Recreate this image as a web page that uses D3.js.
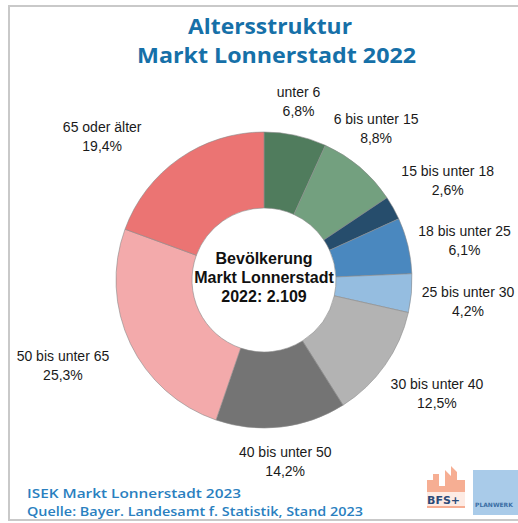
<!DOCTYPE html>
<html>
<head>
<meta charset="utf-8">
<script src="https://cdn.jsdelivr.net/npm/d3@7"></script>
<style>
  html, body { margin: 0; padding: 0; background: #fff; }
  svg { display: block; }
</style>
</head>
<body>
<svg id="chart" width="518" height="523"></svg>
<script>
const categories = [
  "unter 6", "6 bis unter 15", "15 bis unter 18", "18 bis unter 25",
  "25 bis unter 30", "30 bis unter 40", "40 bis unter 50",
  "50 bis unter 65", "65 oder älter"
];
const shares = [6.8, 8.8, 2.6, 6.1, 4.2, 12.5, 14.2, 25.3, 19.4];
const sliceColors = [
  "#507c5d", "#73a07f", "#264d6c", "#4a88bf", "#95bde0",
  "#b3b3b3", "#747474", "#f3aaab", "#eb7473"
];
const titleLines = ["Altersstruktur", "Markt Lonnerstadt 2022"];
const centerLines = ["Bevölkerung", "Markt Lonnerstadt", "2022: 2.109"];
const sourceLines = [
  "ISEK Markt Lonnerstadt 2023",
  "Quelle: Bayer. Landesamt f. Statistik, Stand 2023"
];

const svg = d3.select("#chart");
const width = 518, height = 523;
const cx = 264, cy = 280;
const outerR = 148, innerR = 72;

// manual label tweaks, like dragging them in excel
const labelNudge = [[-4, -1], [-18, 2], [1, 2], [-3, 9], [-3, 3], [3, -6], [0, 0], [-12, -5], [-49, 18]];

// frame (right side runs off the picture)
svg.append("rect")
  .attr("x", 9).attr("y", 6)
  .attr("width", width + 10).attr("height", 514)
  .attr("fill", "#fff")
  .attr("stroke", "#c9c9c9")
  .attr("stroke-width", 2);

// title - stretched a bit so the lines keep the heavy, wide look
const titleX = [270, 276.5];
const titleLen = [164, 279];
svg.append("g")
  .selectAll("text")
  .data(titleLines)
  .join("text")
  .attr("x", (d, i) => titleX[i])
  .attr("y", (d, i) => 34 + i * 29)
  .attr("text-anchor", "middle")
  .attr("font-family", "'Open Sans', sans-serif")
  .attr("font-weight", 700)
  .attr("font-size", 21.2)
  .attr("textLength", (d, i) => titleLen[i])
  .attr("lengthAdjust", "spacingAndGlyphs")
  .attr("fill", "#1670a8")
  .text(d => d);

const data = categories.map((c, i) => ({ label: c, value: shares[i], color: sliceColors[i] }));

const pie = d3.pie().value(d => d.value).sort(null);
const arc = d3.arc().innerRadius(innerR).outerRadius(outerR);
const arcs = pie(data);

const g = svg.append("g").attr("transform", `translate(${cx},${cy})`);

g.selectAll("path")
  .data(arcs)
  .join("path")
  .attr("d", arc)
  .attr("fill", d => d.data.color)
  .attr("stroke", "#8a8a8a")
  .attr("stroke-width", 0.6);

// centre text
g.append("text")
  .attr("text-anchor", "middle")
  .attr("font-family", "'Liberation Sans', Arial, sans-serif")
  .attr("font-weight", 700)
  .attr("font-size", 16)
  .attr("fill", "#111")
  .selectAll("tspan")
  .data(centerLines)
  .join("tspan")
  .attr("x", 0)
  .attr("y", (d, i) => -16 + i * 19)
  .text(d => d);

// outside labels, box pushed just outside the ring along the mid angle
const fmt = v => d3.format(".1f")(v).replace(".", ",") + "%";
const labels = g.append("g")
  .selectAll("g")
  .data(arcs)
  .join("g");

labels.each(function (d, i) {
  const sel = d3.select(this);
  const t = sel.append("text")
    .attr("text-anchor", "middle")
    .attr("font-family", "'Liberation Sans', Arial, sans-serif")
    .attr("font-size", 14)
    .attr("fill", "#1a1a1a");
  t.append("tspan").attr("x", 0).attr("y", -4).text(d.data.label);
  t.append("tspan").attr("x", 0).attr("y", 15).text(fmt(d.data.value));

  const box = this.getBBox();
  const a = (d.startAngle + d.endAngle) / 2;
  const hw = box.width / 2, hh = box.height / 2;
  const dist = outerR + 12 + hw * Math.abs(Math.sin(a)) + hh * Math.abs(Math.cos(a));
  const x = dist * Math.sin(a) + labelNudge[i][0];
  const y = -dist * Math.cos(a) + labelNudge[i][1];
  const boxCy = box.y + hh;
  sel.attr("transform", `translate(${x},${y - boxCy})`);
});

// source
const sourceLen = [214, 336];
svg.append("g")
  .selectAll("text")
  .data(sourceLines)
  .join("text")
  .attr("x", 27)
  .attr("y", (d, i) => 498 + i * 18)
  .attr("font-family", "'Open Sans', sans-serif")
  .attr("font-weight", 600)
  .attr("font-size", 13.2)
  .attr("textLength", (d, i) => sourceLen[i])
  .attr("lengthAdjust", "spacingAndGlyphs")
  .attr("fill", "#2a7fbf")
  .text(d => d);

// logos, bottom right
const logo = svg.append("g").attr("transform", "translate(425,466)");
logo.append("path")
  .attr("d", "M2,42 L2,14 L8,14 L8,8 L14,8 L14,20 L20,20 L20,4 L26,10 L26,0 L32,6 L32,14 L40,14 L40,42 Z")
  .attr("fill", "#f4a080")
  .attr("opacity", 0.85);
logo.append("rect").attr("x", 0).attr("y", 26).attr("width", 44).attr("height", 14).attr("fill", "#fff").attr("opacity", 0.75);
logo.append("text")
  .attr("x", 2).attr("y", 38)
  .attr("font-family", "'DejaVu Sans', sans-serif")
  .attr("font-weight", 700)
  .attr("font-size", 11)
  .attr("fill", "#2c4a78")
  .text("BFS+");
const pw = svg.append("g").attr("transform", "translate(473,470)");
pw.append("rect").attr("width", 50).attr("height", 45).attr("fill", "#a9cbe9");
pw.append("text")
  .attr("x", 2).attr("y", 37)
  .attr("font-family", "'DejaVu Sans', sans-serif")
  .attr("font-weight", 700)
  .attr("font-size", 6)
  .attr("fill", "#3a6ea5")
  .text("PLANWERK");
</script>
</body>
</html>
